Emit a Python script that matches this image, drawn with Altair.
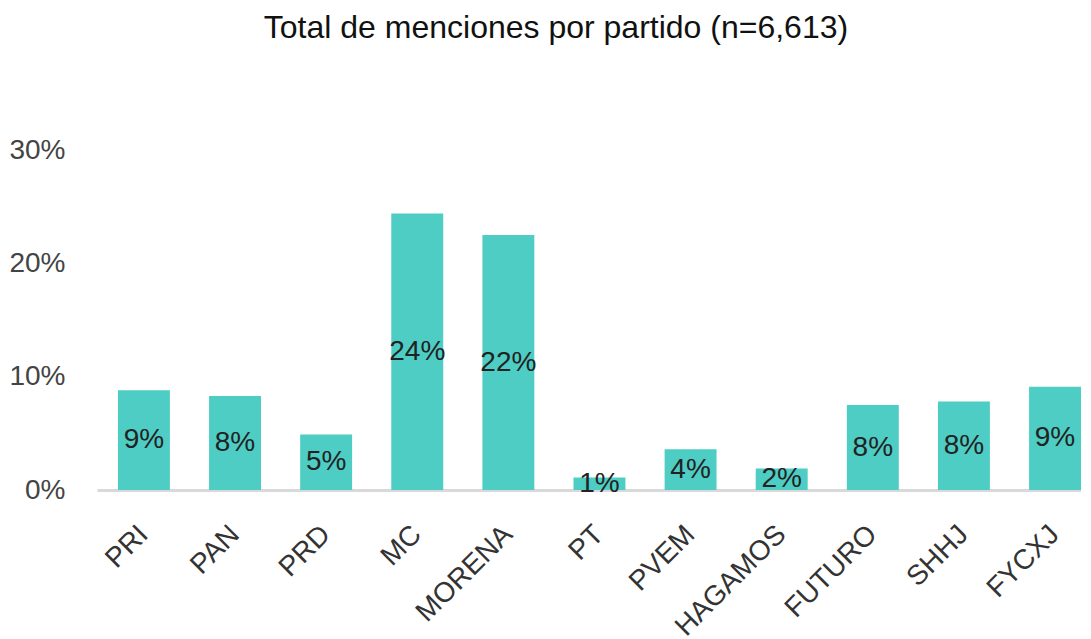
import altair as alt
import pandas as pd

partidos = ["PRI", "PAN", "PRD", "MC", "MORENA", "PT", "PVEM", "HAGAMOS", "FUTURO", "SHHJ", "FYCXJ"]
porcentajes = [8.8, 8.3, 4.9, 24.4, 22.5, 1.1, 3.6, 1.9, 7.5, 7.8, 9.1]
etiquetas = ["9%", "8%", "5%", "24%", "22%", "1%", "4%", "2%", "8%", "8%", "9%"]

df = pd.DataFrame({
    "partido": partidos,
    "valor": [v / 100 for v in porcentajes],
    "mitad": [v / 200 for v in porcentajes],
    "etiqueta": etiquetas,
})

FONT = "Liberation Sans"

x_scale = alt.Scale(paddingInner=0.43, paddingOuter=0.115, align=1.0)
y_scale = alt.Scale(domain=[0, 0.30], nice=False)
y_axis = alt.Axis(values=[0, 0.1, 0.2, 0.3], format=".0%", title=None)
x_axis = alt.Axis(title=None)

bars = alt.Chart(df).mark_bar(color="#4ecdc4").encode(
    x=alt.X("partido:N", sort=partidos, scale=x_scale, axis=x_axis),
    y=alt.Y("valor:Q", scale=y_scale, axis=y_axis),
)

labels = alt.Chart(df).mark_text(
    fontSize=28, font=FONT, color="#222222", baseline="middle", align="center"
).encode(
    x=alt.X("partido:N", sort=partidos, scale=x_scale, axis=x_axis),
    y=alt.Y("mitad:Q", scale=y_scale, axis=y_axis),
    text="etiqueta:N",
)

chart = (
    alt.layer(bars, labels)
    .properties(
        width=984,
        height=340,
        background="white",
        padding={"left": 0, "top": 4, "right": 0, "bottom": 0},
        title=alt.TitleParams(
            "Total de menciones por partido (n=6,613)",
            fontSize=32,
            font=FONT,
            fontWeight="normal",
            color="#111111",
            anchor="middle",
            frame="bounds",
            offset=91,
            dx=11,
        ),
    )
    .configure_view(strokeWidth=0)
    .configure_axisX(
        labelAngle=-45,
        labelFontSize=28,
        labelFont=FONT,
        labelColor="#333333",
        labelPadding=40,
        ticks=False,
        grid=False,
        domainColor="#d9d9d9",
        domainWidth=3,
        labelAlign="right",
        labelBaseline="middle",
    )
    .configure_axisY(
        labelFontSize=28,
        labelFont=FONT,
        labelColor="#444444",
        labelPadding=32,
        ticks=False,
        domain=False,
        grid=False,
    )
)

chart.save("out.html", embed_options={"renderer": "svg", "actions": False})
